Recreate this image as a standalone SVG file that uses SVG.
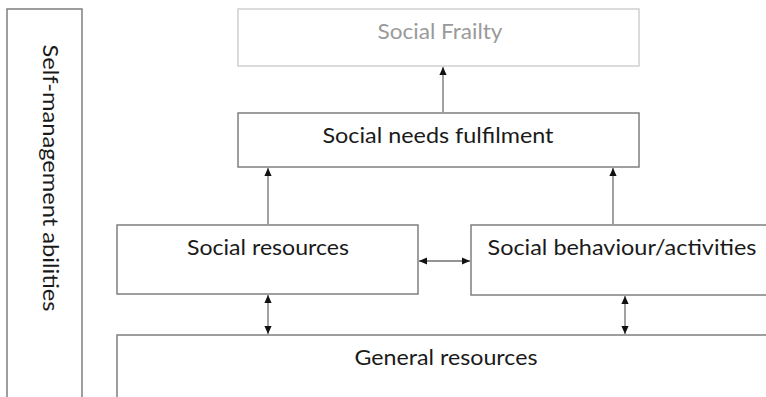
<svg xmlns="http://www.w3.org/2000/svg" width="766" height="397" viewBox="0 0 766 397">
<defs>
<style>
.box{fill:#fff;stroke:#7f7f7f;stroke-width:1.5}
.lt{fill:#fff;stroke:#d0d0d0;stroke-width:1.5}
.t{font-family:Lato,"Open Sans",sans-serif;font-size:21px;fill:#1a1a1a;text-anchor:middle}
.c{stroke:#6f6f6f;stroke-width:1.3;fill:none}
</style>
<marker id="ah" viewBox="0 0 10 10" refX="10" refY="5" markerWidth="8" markerHeight="8" markerUnits="userSpaceOnUse" orient="auto-start-reverse">
<path d="M0,0.5 L10,5 L0,9.5 Z" fill="#111"/>
</marker>
</defs>
<rect width="766" height="397" fill="#fff"/>
<g id="self-management">
<rect class="box" x="7" y="9" width="75" height="400"/>
<text class="t" transform="translate(43,178) rotate(90)" textLength="267" lengthAdjust="spacingAndGlyphs" style="font-size:22px">Self-management abilities</text>
</g>
<g id="social-frailty">
<rect class="lt" x="238" y="9" width="401" height="57"/>
<text class="t" x="440" y="39" style="fill:#9a9a9a" textLength="125" lengthAdjust="spacingAndGlyphs">Social Frailty</text>
</g>
<g id="social-needs">
<rect class="box" x="238" y="113" width="401" height="54"/>
<text class="t" x="438" y="143" textLength="231" lengthAdjust="spacingAndGlyphs">Social needs fulfilment</text>
</g>
<g id="social-resources">
<rect class="box" x="117" y="225" width="301" height="69"/>
<text class="t" x="268" y="255" textLength="162" lengthAdjust="spacingAndGlyphs">Social resources</text>
</g>
<g id="social-behaviour">
<rect class="box" x="471" y="225" width="310" height="70"/>
<text class="t" x="622" y="255" textLength="269" lengthAdjust="spacingAndGlyphs">Social behaviour/activities</text>
</g>
<g id="general-resources">
<rect class="box" x="117" y="335" width="670" height="80"/>
<text class="t" x="446" y="365" textLength="183" lengthAdjust="spacingAndGlyphs">General resources</text>
</g>
<g id="connectors">
<line class="c" x1="443" y1="112" x2="443" y2="67" marker-end="url(#ah)"/>
<line class="c" x1="268" y1="224" x2="268" y2="168" marker-end="url(#ah)"/>
<line class="c" x1="613" y1="224" x2="613" y2="168" marker-end="url(#ah)"/>
<line class="c" x1="419" y1="261" x2="470" y2="261" marker-start="url(#ah)" marker-end="url(#ah)"/>
<line class="c" x1="268" y1="295" x2="268" y2="334" marker-start="url(#ah)" marker-end="url(#ah)"/>
<line class="c" x1="625" y1="296" x2="625" y2="334" marker-start="url(#ah)" marker-end="url(#ah)"/>
</g>
</svg>
